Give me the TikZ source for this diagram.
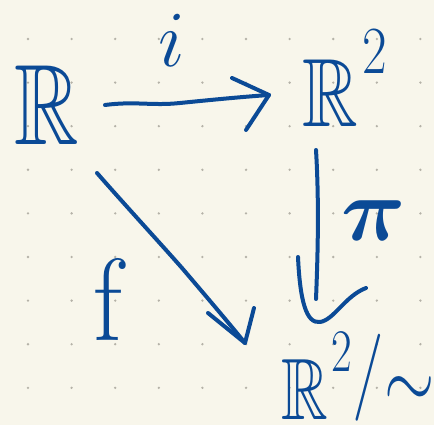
\documentclass[tikz,border=0pt]{standalone}
\usepackage{amssymb,amsmath}
\definecolor{paper}{HTML}{F8F6EB}
\definecolor{ink}{HTML}{0B4A96}
\definecolor{dotc}{HTML}{B5B2A8}
\tikzset{
  pen/.style={draw=ink, line width=4pt, line cap=round, line join=round},
  sym/.style={text=ink, inner sep=0pt, font=\Huge},
}
\begin{document}
\begin{tikzpicture}[x=1pt,y=-1pt]
% paper and dot grid
\fill[paper] (0,0) rectangle (434,425);
\useasboundingbox (0,0) rectangle (434,425);
\foreach \i in {0,...,9}
  \foreach \j in {0,...,8}
    \fill[dotc] (28+43.6*\i, 39+43.6*\j) circle[radius=1.3pt];

% objects
\node[sym, xscale=3.6, yscale=4.6] (A) at (47,105) {$\mathbb{R}$};
\node[sym, xscale=3.1, yscale=3.9, anchor=base west] (B) at (302,127)
  {$\mathbb{R}\mkern1mu\raisebox{0.55em}{$\scriptscriptstyle 2$}$};
\node[sym, xscale=2.6, yscale=3.5, anchor=base west] (C) at (281,419)
  {$\mathbb{R}\mkern1mu\raisebox{0.55em}{$\scriptscriptstyle 2$}
    \raisebox{0.22em}{$/$}\raisebox{0.12em}{$\sim$}$};

% labels
\node[sym, scale=3.2] (li) at (172,40) {$i$};
\node[sym, scale=3.6] (lpi) at (374,221) {$\boldsymbol{\pi}$};
\node[sym, xscale=4.2, yscale=4.7] (lf) at (108,299) {f};

% arrow i : R -> R^2
\coordinate (i0) at (105,105);
\coordinate (i1) at (269,95);
\draw[pen] (i0) .. controls (135,101) and (152,106) .. (180,103)
               .. controls (210,100) and (240,97) .. (i1);
\draw[pen] (232,78) -- (i1) -- (246,130);

% arrow pi : R^2 -> quotient
\coordinate (p0) at (316,150);
\coordinate (p1) at (316,299);
\draw[pen] (p0) .. controls (319,200) and (318,250) .. (p1);
\draw[pen] (298,257) .. controls (300,300) and (306,324) .. (320,322)
                     .. controls (334,320) and (345,296) .. (366,288);

% arrow f : R -> quotient
\coordinate (f0) at (97,173);
\coordinate (f1) at (245,343);
\draw[pen] (f0) .. controls (125,205) and (160,243) .. (182,268)
               .. controls (205,295) and (228,322) .. (f1);
\draw[pen] (208,313) -- (f1) -- (254,308);
\end{tikzpicture}
\end{document}
